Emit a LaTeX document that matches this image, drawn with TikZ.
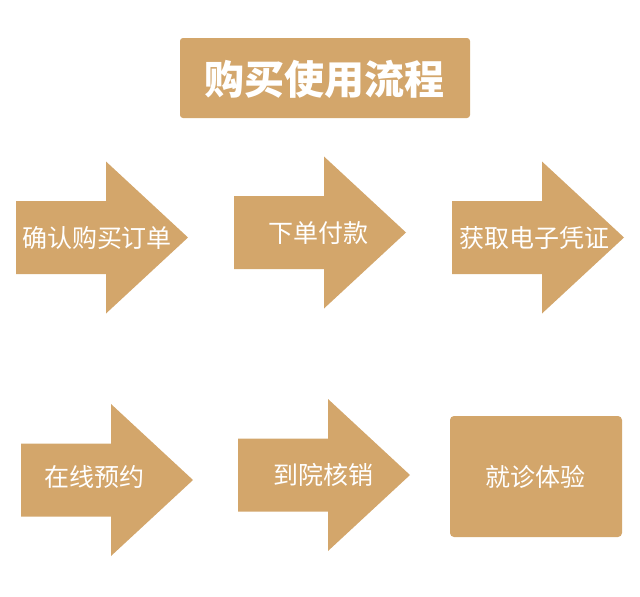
\documentclass[tikz,border=0pt]{standalone}
\usepackage{fontspec}
\usepackage{xcolor}
\usepackage{tikz}
\newfontfamily\cjk{Noto Sans CJK SC}
\definecolor{sand}{HTML}{D3A66B}

\tikzset{
  flowarrow/.pic={\fill[sand] (0,36.5)--(90,36.5)--(90,76)--(172,0)--(90,-76)--(90,-36.5)--(0,-36.5)--cycle;},
  steptext/.style={text=white,inner sep=0pt,font=\cjk\fontsize{25}{30}\selectfont},
  titletext/.style={text=white,inner sep=0pt,font=\cjk\bfseries\fontsize{40}{48}\selectfont}
}

\begin{document}
\begin{tikzpicture}[x=1pt,y=-1pt]
\useasboundingbox (0,0) rectangle (640,597);
\fill[sand,rounded corners=3pt] (180,38) rectangle (470,118);
\node[titletext] (title) at (324,79) {购买使用流程};
% first row
\pic at (16,237.5) {flowarrow};
\node[steptext] (confirm) at (97,238) {确认购买订单};
\pic at (234,232.5) {flowarrow};
\node[steptext] (pay) at (318,233) {下单付款};
\pic at (452,237.5) {flowarrow};
\node[steptext] (voucher) at (534,238) {获取电子凭证};
% second row
\pic at (21,480) {flowarrow};
\node[steptext] (book) at (94,477) {在线预约};
\pic at (238,475) {flowarrow};
\node[steptext] (verify) at (323,475) {到院核销};
\fill[sand,rounded corners=4pt] (450,416) rectangle (622,537);
\node[steptext] (visit) at (535,477) {就诊体验};
\end{tikzpicture}
\end{document}
